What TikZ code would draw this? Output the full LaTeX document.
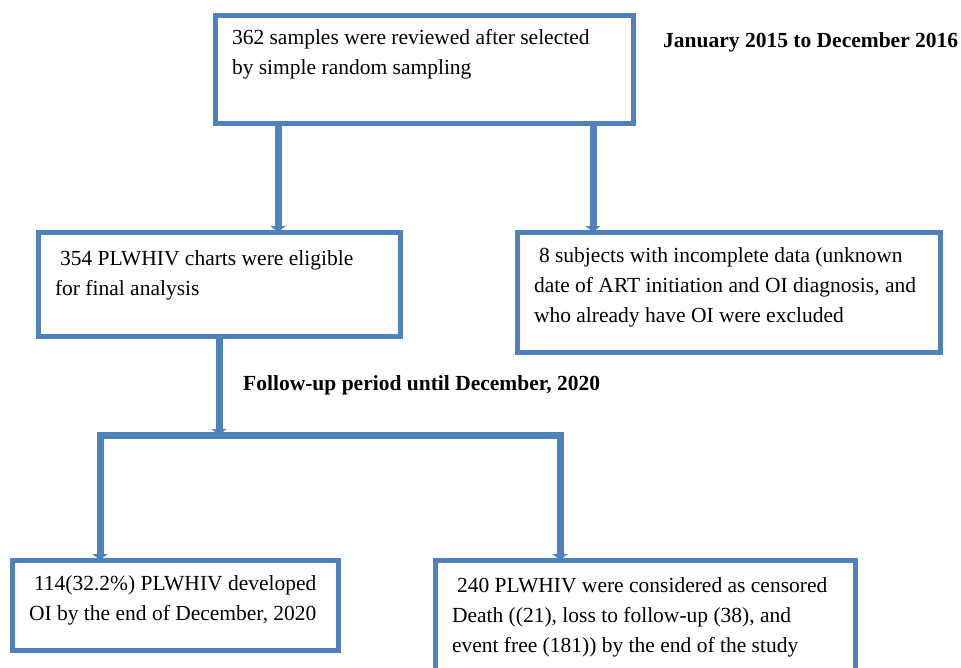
\documentclass[tikz,border=0pt]{standalone}
\usepackage{fontspec}
\setmainfont{Liberation Serif}
\usetikzlibrary{arrows.meta}
\definecolor{flowblue}{RGB}{79,129,189}
\begin{document}
\begin{tikzpicture}[x=1pt,y=-1pt,
    flowtip/.tip={Triangle[width=15pt,length=6pt]},
    box/.style={draw=flowblue,line width=5pt,outer sep=0pt,anchor=north west,align=flush left,inner xsep=17pt,inner ysep=0pt,font=\fontsize{21.5pt}{30pt}\selectfont},
    flow/.style={draw=flowblue,line width=7pt,-flowtip},
    note/.style={anchor=base west,inner sep=0pt,font=\fontsize{21.5pt}{30pt}\selectfont\bfseries}]
    \useasboundingbox (0,0) rectangle (961,667);
    \node[box,text width=384pt,text height=29pt,text depth=79pt] (sample) at (215,15) {362 samples were reviewed after selected\\by simple random sampling};
    \node[box,text width=328pt,text height=33pt,text depth=71pt] (elig) at (38,232) {\hspace*{5pt}354 PLWHIV charts were eligible\\for final analysis};
    \node[box,text width=389pt,text height=30pt,text depth=90pt] (excl) at (517,232) {\hspace*{5pt}8 subjects with incomplete data (unknown\\date of ART initiation and OI diagnosis, and\\who already have OI were excluded};
    \node[box,text width=292pt,text height=30pt,text depth=60pt] (oi) at (12,560) {\hspace*{5pt}114(32.2\%) PLWHIV developed\\OI by the end of December, 2020};
    \node[box,text width=386pt,text height=32pt,text depth=78pt] (cens) at (435,560) {\hspace*{5pt}240 PLWHIV were considered as censored\\Death ((21), loss to follow-up (38), and\\event free (181)) by the end of the study};
    \node[note] (period) at (663,47) {January 2015 to December 2016};
    \node[note] (followup) at (243,390) {Follow-up period until December, 2020};
    \coordinate (split) at (elig.south |- 0,435);
    \draw[flow] (sample.south -| 278,0) -- (elig.north -| 278,0);
    \draw[flow] (sample.south -| 593,0) -- (excl.north -| 593,0);
    \draw[flow] (elig.south) -- (split);
    \draw[flow,flowtip-flowtip] (oi.north -| 100,0) |- (split) -| (cens.north -| 560,0);
\end{tikzpicture}
\end{document}
